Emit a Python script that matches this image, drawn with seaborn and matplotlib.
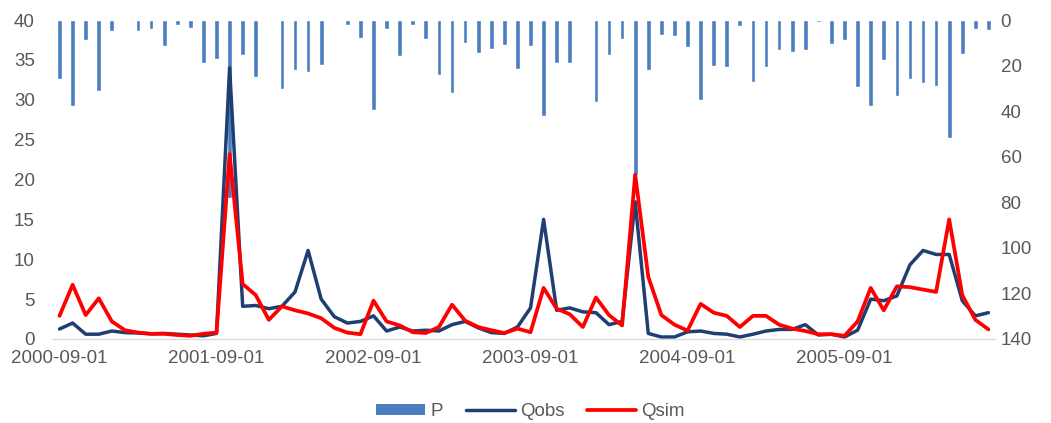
import numpy as np
import pandas as pd
import seaborn as sns
import matplotlib.pyplot as plt
from matplotlib.patches import Patch
from matplotlib.lines import Line2D

# monthly series, 2000-09 .. 2006-08
months = pd.date_range('2000-09-01', periods=72, freq='MS')

P = [25.7, 37.7, 8.9, 31.1, 4.7, 0, 4.7, 3.9, 11.4, 2.0, 3.4, 18.9,
     17.1, 78, 15.2, 25.1, 0, 30.3, 22.1, 22.7, 19.6, 0, 2.2, 7.7,
     39.5, 4.1, 15.8, 2.2, 8.3, 24.0, 32.0, 10.2, 14.5, 12.9, 10.8, 21.5,
     11.5, 42.1, 19.0, 19.0, 0, 35.8, 15.2, 8.3, 68, 22.1, 6.4, 7.0,
     12.0, 35.1, 20.2, 20.8, 2.6, 27.0, 20.8, 13.3, 14.0, 13.3, 0.9, 10.7,
     8.8, 29.5, 37.7, 17.7, 33.2, 25.7, 27.6, 28.9, 51.9, 15.1, 3.9, 4.5]

Qobs = [1.25, 2.0, 0.6, 0.6, 1.0, 0.8, 0.75, 0.65, 0.7, 0.6, 0.5, 0.4,
        0.7, 34.0, 4.1, 4.2, 3.8, 4.1, 5.9, 11.1, 5.0, 2.8, 2.0, 2.2,
        2.9, 1.0, 1.5, 1.0, 1.1, 1.0, 1.8, 2.2, 1.4, 0.8, 0.7, 1.5,
        3.9, 15.0, 3.6, 3.9, 3.4, 3.3, 1.8, 2.2, 17.2, 0.7, 0.25, 0.25,
        0.9, 1.0, 0.7, 0.6, 0.25, 0.6, 1.0, 1.2, 1.2, 1.8, 0.5, 0.6,
        0.25, 1.1, 5.0, 4.8, 5.4, 9.3, 11.1, 10.6, 10.6, 4.8, 2.9, 3.3]

Qsim = [2.9, 6.8, 3.0, 5.1, 2.2, 1.1, 0.8, 0.65, 0.65, 0.5, 0.4, 0.65,
        0.8, 23.2, 6.9, 5.5, 2.4, 4.1, 3.6, 3.2, 2.6, 1.4, 0.8, 0.6,
        4.8, 2.2, 1.7, 0.85, 0.75, 1.5, 4.3, 2.3, 1.5, 1.1, 0.75, 1.3,
        0.85, 6.4, 3.8, 3.1, 1.5, 5.2, 3.0, 1.7, 20.6, 7.8, 3.0, 1.8,
        1.05, 4.4, 3.3, 2.9, 1.5, 2.9, 2.9, 1.8, 1.3, 1.0, 0.6, 0.6,
        0.4, 2.2, 6.4, 3.6, 6.6, 6.5, 6.2, 5.9, 15.0, 5.5, 2.4, 1.2]

df = pd.DataFrame({'idx': np.arange(len(months)), 'P': P, 'Qobs': Qobs, 'Qsim': Qsim})

sns.set_style('white')
plt.rcParams['font.family'] = ['Liberation Sans', 'DejaVu Sans']
grey = '#595959'
bar_c = '#4A7EBF'
obs_c = '#1F3F73'
sim_c = '#FF0000'

fig = plt.figure(figsize=(10.51, 4.23), dpi=100)
ax = fig.add_axes([0.0504, 0.1986, 0.8963, 0.7541])
ax2 = ax.twinx()

# rainfall bars hanging from the top (right axis, inverted)
sns.barplot(data=df, x='idx', y='P', ax=ax2, color=bar_c, width=0.36,
            saturation=1, native_scale=True)
ax2.set_ylim(140, 0)
ax2.set_yticks(np.arange(0, 141, 20))

# discharge lines on left axis
sns.lineplot(data=df, x='idx', y='Qobs', ax=ax, color=obs_c, linewidth=2.5)
sns.lineplot(data=df, x='idx', y='Qsim', ax=ax, color=sim_c, linewidth=2.7)
ax.set_ylim(0, 40)
ax.set_yticks(np.arange(0, 41, 5))

ax.set_zorder(ax2.get_zorder() + 1)
ax.patch.set_visible(False)

ax.set_xlim(-0.5, 71.5)
ax.set_xticks(np.arange(-0.5, 72, 12))
ax.set_xticklabels([])
ax.set_xticks(np.arange(0, 72, 12), minor=True)
ax.set_xticklabels([m.strftime('%Y-%m-%d') for m in months[::12]], minor=True)
ax.tick_params(axis='x', which='major', length=5, color='#D9D9D9', width=1, direction='out')
ax.tick_params(axis='x', which='minor', length=0, pad=8, labelsize=13.5, labelcolor=grey)
ax.tick_params(axis='y', length=0, labelsize=13.5, labelcolor=grey, pad=13)
ax2.tick_params(axis='y', length=0, labelsize=13.5, labelcolor=grey, pad=4)
ax.set_xlabel('')
ax.set_ylabel('')
ax2.set_xlabel('')
ax2.set_ylabel('')

for a in (ax, ax2):
    for s in ['top', 'left', 'right', 'bottom']:
        a.spines[s].set_visible(False)
ax.spines['bottom'].set_visible(True)
ax.spines['bottom'].set_color('#D9D9D9')
ax.spines['bottom'].set_linewidth(1)

handles = [Patch(facecolor=bar_c, edgecolor='none'),
           Line2D([], [], color=obs_c, linewidth=2.5),
           Line2D([], [], color=sim_c, linewidth=2.7)]
fig.legend(handles, ['P', 'Qobs', 'Qsim'], loc='center', bbox_to_anchor=(0.505, 0.027),
           ncol=3, frameon=False, fontsize=13.5, labelcolor=grey,
           handlelength=2.6, handletextpad=0.3, columnspacing=1.2, handleheight=0.6)

fig.savefig('out.png', dpi=100)
